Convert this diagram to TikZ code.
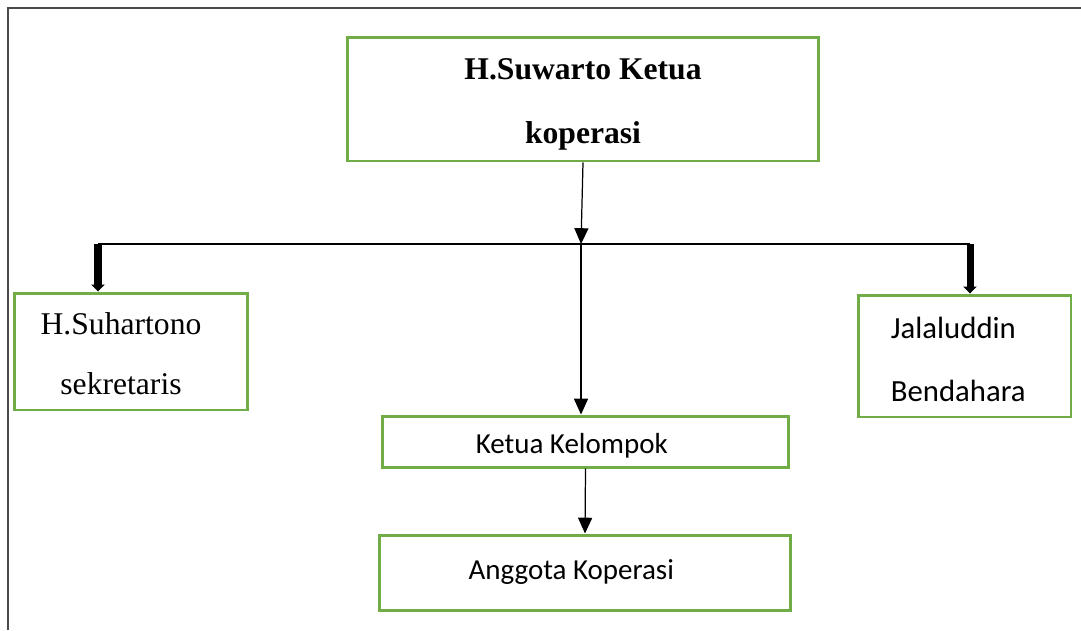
\documentclass[tikz,border=0pt]{standalone}
\usepackage{fontspec}
\setmainfont{Liberation Serif}
\newfontfamily\calibri{Carlito}
\usepackage{xcolor}
\definecolor{boxgreen}{HTML}{70AD47}
\definecolor{framegray}{HTML}{4A4A4A}
\usepackage{tikz}
\usetikzlibrary{arrows.meta,positioning}

\begin{document}
\begin{tikzpicture}[x=0.02cm, y=-0.02cm,
    orgbox/.style={rectangle, draw=boxgreen, line width=1.7pt, fill=white, align=center, inner sep=0pt},
    thinarrow/.style={-{Triangle[width=8pt,length=9pt]}, black, line width=0.7pt},
    fatarrow/.style={-{Triangle[width=7.5pt,length=4pt]}, black, line width=4pt},
  ]
    \useasboundingbox (0,0) rectangle (1081,630);
    % frame of the page
    \draw[framegray, line width=1.2pt] (8,630) -- (8,8) -- (1081,8);

    \node[orgbox, minimum width=9.44cm, minimum height=2.48cm, font=\fontsize{18}{36}\selectfont\bfseries] (ketua) at (583,99) {\rule{0pt}{18pt}H.Suwarto Ketua\\koperasi};
    \node[orgbox, minimum width=4.68cm, minimum height=2.34cm, font=\fontsize{18}{34}\selectfont] (sekretaris) at (131,351.5) {\hspace*{-0.4cm}\rule{0pt}{15pt}H.Suhartono\\\hspace*{-0.4cm}sekretaris};
    \node[orgbox, minimum width=4.26cm, minimum height=2.44cm, font=\fontsize{17.5}{36}\calibri, align=left] (bendahara) at (964.5,356) {\hspace*{-0.25cm}\rule{0pt}{16pt}Jalaluddin\\\hspace*{-0.25cm}Bendahara};
    \node[orgbox, minimum width=8.14cm, minimum height=1.02cm, font=\fontsize{16.5}{20}\calibri] (kelompok) at (585.5,441.5) {\hspace*{-0.55cm}\rule{0pt}{16pt}Ketua Kelompok};
    \node[orgbox, minimum width=8.24cm, minimum height=1.5cm, font=\fontsize{16.5}{20}\calibri] (anggota) at (585,572.5) {\hspace*{-0.55cm}Anggota Koperasi};

    \coordinate (hub) at (581,244);
    \coordinate (hubL) at (98,244);
    \coordinate (hubR) at (970,244);

    \draw[black, line width=0.6pt] (hubL) -- (hubR);
    \draw[thinarrow] (ketua.south) -- (hub);
    \draw[thinarrow] (hub) -- (hub |- kelompok.north);
    \draw[thinarrow] (kelompok.south) -- (anggota.north);
    \draw[fatarrow] (hubL) -- (hubL |- sekretaris.north);
    \draw[fatarrow] (hubR) -- (hubR |- bendahara.north);
  \end{tikzpicture}
\end{document}
